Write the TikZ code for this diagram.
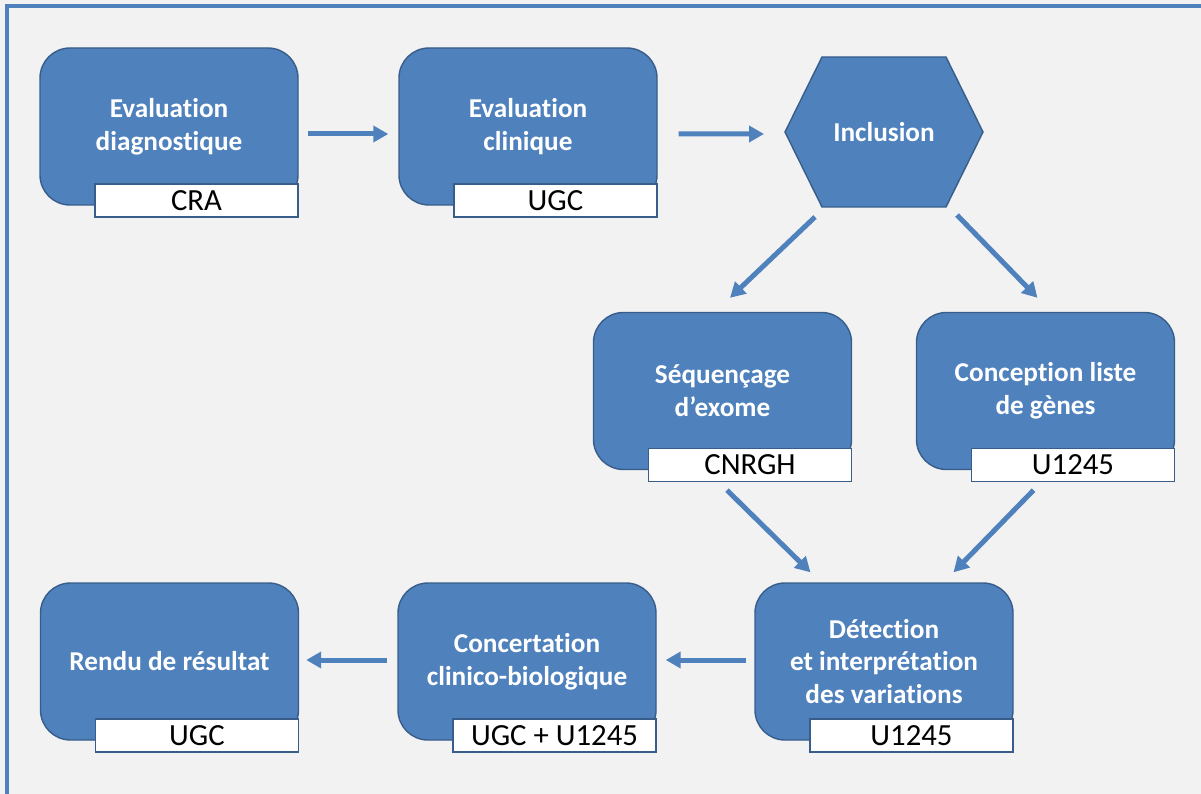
\documentclass[tikz,border=0pt]{standalone}
\usepackage{fontspec}
\setmainfont{Carlito}[RawFeature={-liga;-clig;-calt;-dlig}]
\usetikzlibrary{positioning, arrows.meta, backgrounds}
\definecolor{boxblue}{HTML}{4F81BD}
\definecolor{edgeblue}{HTML}{385D8A}
\definecolor{paper}{HTML}{F2F2F2}

\tikzset{
  stage/.style={draw=edgeblue, line width=0.8pt, fill=boxblue, rounded corners=0.6cm,
    minimum width=5.16cm, minimum height=3.14cm, align=center, text=white,
    font=\fontsize{15.5}{18.7}\selectfont\bfseries},
  hexa/.style={minimum width=3.96cm, minimum height=3cm, outer sep=0pt, text=white,
    font=\fontsize{15.5}{18.7}\selectfont\bfseries},
  tag/.style={draw=edgeblue, line width=0.8pt, fill=white, minimum width=4.06cm,
    minimum height=0.66cm, inner sep=0pt, anchor=south east,
    font=\fontsize{17.5}{18}\selectfont},
  flow/.style={-{Triangle[length=0.3cm, width=0.32cm]}, line width=0.1cm, draw=boxblue},
}

\begin{document}
\begin{tikzpicture}[on grid]
  \useasboundingbox (0,0) rectangle (24.02,-15.88);
  \begin{scope}[on background layer]
    \fill[paper] (0,0) rectangle (24.02,-15.88);
  \end{scope}
  \draw[boxblue, line width=0.07cm] (0.14,-15.88) -- (0.14,-0.12) -- (24.02,-0.12);

  % first row
  \node[stage] (diag) at (3.38,-2.53) {Evaluation\\diagnostique};
  \node[stage, right=7.18cm of diag] (clin) {Evaluation\\clinique};
  \node[hexa, right=7.12cm of clin, yshift=-0.11cm] (incl) {Inclusion};

  % second row
  \node[stage, below left=5.18cm and 3.23cm of incl] (seq) {Séquençage\\d’exome};
  \node[stage, below right=5.18cm and 3.23cm of incl] (genes) {Conception liste\\de gènes};

  % third row
  \node[stage, below=10.59cm of incl] (detec) {Détection\\et interprétation\\des variations};
  \node[stage, left=7.14cm of detec] (concert) {Concertation\\clinico-biologique};
  \node[stage, left=7.15cm of concert] (rendu) {Rendu de résultat};

  % labs
  \node[tag] (diagtag) at ([yshift=-0.24cm]diag.south east) {CRA};
  \node[tag] (clintag) at ([yshift=-0.24cm]clin.south east) {UGC};
  \node[tag] (seqtag) at ([yshift=-0.24cm]seq.south east) {CNRGH};
  \node[tag] (genestag) at ([yshift=-0.24cm]genes.south east) {U1245};
  \node[tag] (detectag) at ([yshift=-0.24cm]detec.south east) {U1245};
  \node[tag] (concerttag) at ([yshift=-0.24cm]concert.south east) {UGC + U1245};
  \node[tag] (rendutag) at ([yshift=-0.24cm]rendu.south east) {UGC};

  \begin{scope}[on background layer]
    \filldraw[fill=boxblue, draw=edgeblue, line width=0.8pt]
      (incl.west) -- ([xshift=0.74cm]incl.north west) -- ([xshift=-0.74cm]incl.north east)
      -- (incl.east) -- ([xshift=-0.74cm]incl.south east) -- ([xshift=0.74cm]incl.south west) -- cycle;
  \end{scope}

  \draw[flow, shorten <=0.18cm, shorten >=0.2cm] ([yshift=-0.15cm]diag.east) -- ([yshift=-0.15cm]clin.west);
  \draw[flow, shorten <=0.42cm, shorten >=0.42cm] ([yshift=-0.15cm]clin.east) -- ([yshift=-0.04cm]incl.west);
  \draw[flow] ([shift={(-1.38,-0.2)}]incl.south) -- ([shift={(0.15,0.28)}]seq.north);
  \draw[flow] ([shift={(1.46,-0.16)}]incl.south) -- ([shift={(-0.16,0.28)}]genes.north);
  \draw[flow] ([shift={(0.09,-0.4)}]seq.south) -- ([shift={(-1.47,0.2)}]detec.north);
  \draw[flow] ([shift={(-0.24,-0.4)}]genes.south) -- ([shift={(1.39,0.2)}]detec.north);
  \draw[flow, shorten <=0.16cm, shorten >=0.18cm] ([yshift=0.03cm]detec.west) -- ([yshift=0.03cm]concert.east);
  \draw[flow, shorten <=0.2cm, shorten >=0.14cm] ([yshift=0.03cm]concert.west) -- ([yshift=0.03cm]rendu.east);
\end{tikzpicture}
\end{document}
